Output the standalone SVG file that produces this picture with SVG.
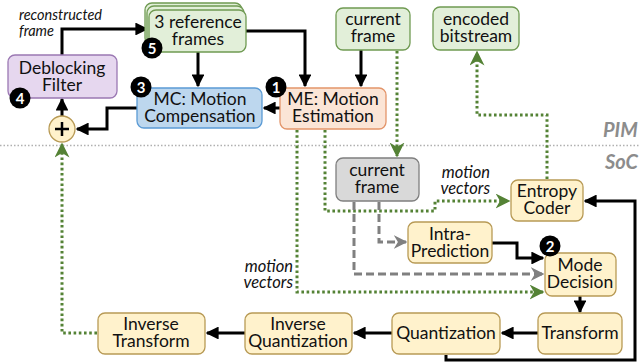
<svg xmlns="http://www.w3.org/2000/svg" width="640" height="362" viewBox="0 0 640 362">
<defs>
<style>
text{font-family:Lato,"Open Sans","Liberation Sans",sans-serif;font-size:17.5px;fill:#111;text-anchor:middle}
.lbl{font-style:italic;font-size:16.5px;text-anchor:end}
.lbls{font-style:italic;font-size:14.5px;text-anchor:start}
.layer{font-style:italic;font-weight:bold;font-size:20px;fill:#8c8c8c;text-anchor:start}
.badge circle{fill:#000}
.badge text{fill:#fff;font-weight:bold;font-size:15px}
.green rect{fill:#e2efd9;stroke:#6f9a52;stroke-width:1.3}
.yellow rect{fill:#fff2cc;stroke:#b89a55;stroke-width:1.3}
.blk{fill:none;stroke:#000;stroke-width:3;marker-end:url(#ab)}
.dot{fill:none;stroke:#548235;stroke-width:3;stroke-dasharray:2.6 2.6;marker-end:url(#ag)}
.dash{fill:none;stroke:#808080;stroke-width:3;stroke-dasharray:8 4;marker-end:url(#ay)}
</style>
<marker id="ab" viewBox="0 0 10 10" refX="9" refY="5" markerWidth="4.3" markerHeight="4.3" orient="auto" markerUnits="strokeWidth"><path d="M0,0 L10,5 L0,10 z" fill="#000"/></marker>
<marker id="ag" viewBox="0 0 10 10" refX="9" refY="5" markerWidth="5" markerHeight="5" orient="auto" markerUnits="strokeWidth"><path d="M0,0 L10,5 L0,10 L3,5 z" fill="#548235"/></marker>
<marker id="ay" viewBox="0 0 10 10" refX="9" refY="5" markerWidth="4.5" markerHeight="4.5" orient="auto" markerUnits="strokeWidth"><path d="M0,0 L10,5 L0,10 L3,5 z" fill="#808080"/></marker>
</defs>
<rect width="640" height="362" fill="#fff"/>

<line x1="0" y1="145.5" x2="640" y2="145.5" stroke="#b0b0b0" stroke-width="1.5" stroke-dasharray="1.5 2"/>
<text class="layer" x="603" y="137">PIM</text>
<text class="layer" x="605" y="169">SoC</text>

<g id="connectors">
<path class="blk" d="M62,55 V29 H147"/>
<path class="blk" d="M246,31 H305 V86"/>
<path class="blk" d="M198,52 V86"/>
<path class="blk" d="M361,50 V86"/>
<path class="blk" d="M280,108 H264"/>
<path class="blk" d="M137,108 H107 V129 H77"/>
<path class="blk" d="M62,116 V99"/>
<path class="blk" d="M580,296 V312"/>
<path class="blk" d="M492,243 H517 V258 H543"/>
<path class="blk" d="M538,333 H502"/>
<path class="blk" d="M392,333 H354"/>
<path class="blk" d="M245,333 H207"/>
<path class="blk" d="M446,355 V360 H635 V201 H585"/>
<path class="dot" d="M397,51 V156"/>
<path class="dot" d="M325,130 V211 H435 V201 H509"/>
<path class="dot" d="M297,130 V292 H543"/>
<path class="dot" d="M547,179 V115 H477 V52"/>
<path class="dot" d="M97,333 H62 V144"/>
<path class="dash" d="M379,202 V242 H406"/>
<path class="dash" d="M354,202 V274 H543"/>
</g>

<text class="lbls"><tspan x="19" y="20">reconstructed</tspan><tspan x="19" y="36">frame</tspan></text>
<text class="lbl"><tspan x="490" y="178">motion</tspan><tspan x="490" y="194">vectors</tspan></text>
<text class="lbl"><tspan x="293" y="272">motion</tspan><tspan x="293" y="288">vectors</tspan></text>

<g id="deblocking">
<rect x="8" y="55" width="109" height="43" rx="7" fill="#e6d7ef" stroke="#9b78b3" stroke-width="1.3"/>
<text><tspan x="62" y="74">Deblocking</tspan><tspan x="62" y="91">Filter</tspan></text>
</g>
<g id="ref-frames" class="green">
<rect x="145" y="3" width="97" height="42" rx="7"/>
<rect x="147" y="6" width="97" height="42" rx="7"/>
<rect x="149" y="10" width="97" height="42" rx="7"/>
<text><tspan x="198" y="28">3 reference</tspan><tspan x="198" y="45">frames</tspan></text>
</g>
<g id="mc">
<rect x="137" y="88" width="125" height="40" rx="7" fill="#bdd7ee" stroke="#5b9bd5" stroke-width="1.3"/>
<text><tspan x="200" y="105">MC: Motion</tspan><tspan x="200" y="122">Compensation</tspan></text>
</g>
<g id="me">
<rect x="280" y="88" width="106" height="41" rx="7" fill="#fbe5d6" stroke="#e3956a" stroke-width="1.3"/>
<text><tspan x="333" y="105">ME: Motion</tspan><tspan x="333" y="122">Estimation</tspan></text>
</g>
<g id="current-frame-pim" class="green">
<rect x="336" y="8" width="74" height="42" rx="7"/>
<text><tspan x="373" y="25">current</tspan><tspan x="373" y="42">frame</tspan></text>
</g>
<g id="bitstream" class="green">
<rect x="433" y="7" width="86" height="43" rx="7"/>
<text><tspan x="476" y="25">encoded</tspan><tspan x="476" y="42">bitstream</tspan></text>
</g>
<g id="plus">
<circle cx="62" cy="129" r="13" fill="#fff2cc" stroke="#b89a55" stroke-width="1.3"/>
<path d="M55,129 H69 M62,122 V136" stroke="#000" stroke-width="2.5"/>
</g>
<g id="current-frame-soc">
<rect x="336" y="158" width="83" height="43" rx="7" fill="#d9d9d9" stroke="#7f7f7f" stroke-width="1.3"/>
<text><tspan x="377" y="176">current</tspan><tspan x="377" y="193">frame</tspan></text>
</g>
<g id="entropy" class="yellow">
<rect x="511" y="180" width="72" height="41" rx="7"/>
<text><tspan x="547" y="197">Entropy</tspan><tspan x="547" y="214">Coder</tspan></text>
</g>
<g id="intra" class="yellow">
<rect x="408" y="222" width="84" height="41" rx="7"/>
<text><tspan x="450" y="240">Intra-</tspan><tspan x="450" y="257">Prediction</tspan></text>
</g>
<g id="mode" class="yellow">
<rect x="545" y="253" width="71" height="43" rx="7"/>
<text><tspan x="580" y="271">Mode</tspan><tspan x="580" y="288">Decision</tspan></text>
</g>
<g id="transform" class="yellow">
<rect x="538" y="313" width="84" height="41" rx="7"/>
<text x="580" y="339">Transform</text>
</g>
<g id="quantization" class="yellow">
<rect x="392" y="313" width="108" height="41" rx="7"/>
<text x="446" y="339">Quantization</text>
</g>
<g id="inv-quant" class="yellow">
<rect x="245" y="313" width="107" height="41" rx="7"/>
<text><tspan x="298" y="330">Inverse</tspan><tspan x="298" y="347">Quantization</tspan></text>
</g>
<g id="inv-transform" class="yellow">
<rect x="98" y="313" width="107" height="41" rx="7"/>
<text><tspan x="151" y="330">Inverse</tspan><tspan x="151" y="347">Transform</tspan></text>
</g>

<g id="badge1" class="badge"><circle cx="276" cy="87" r="10.5"/><text x="276" y="92.5">1</text></g>
<g id="badge2" class="badge"><circle cx="550" cy="246" r="10.5"/><text x="550" y="251.5">2</text></g>
<g id="badge3" class="badge"><circle cx="141" cy="87" r="10.5"/><text x="141" y="92.5">3</text></g>
<g id="badge4" class="badge"><circle cx="20" cy="98" r="10.5"/><text x="20" y="103.5">4</text></g>
<g id="badge5" class="badge"><circle cx="152" cy="48" r="10.5"/><text x="152" y="53.5">5</text></g>
</svg>
